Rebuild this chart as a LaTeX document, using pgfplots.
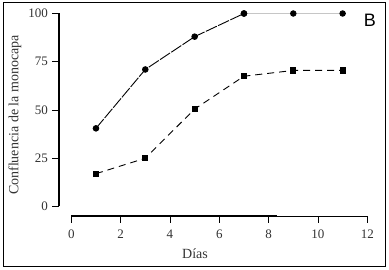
\documentclass[border=0pt]{standalone}
\usepackage{fontspec}
\setmainfont{Liberation Serif}
\newfontfamily\sansfnt{Liberation Sans}
\usepackage{pgfplots}
\pgfplotsset{compat=1.18}
\begin{document}
\begin{tikzpicture}
\useasboundingbox (-71.3pt,-63.5pt) rectangle (317.7pt,206.5pt);
\begin{axis}[
  at={(0,0)}, anchor=south west,
  scale only axis, width=296pt, height=193pt,
  xmin=0, xmax=12, ymin=0, ymax=100,
  axis x line*=bottom, axis y line*=left,
  axis x line shift=9.5pt, axis y line shift=12pt,
  xtick={0,2,...,12}, ytick={0,25,50,75,100},
  tick align=outside, major tick length=7pt,
  x axis line style={line width=0.7pt},
  y axis line style={line width=1.6pt},
  tick style={black, line width=0.8pt},
  /pgf/number format/assume math mode=true,
  tick label style={font=\fontsize{13}{15}\selectfont, text=black!80},
  xticklabel style={yshift=-3pt},
  yticklabel style={xshift=-1pt},
  xlabel={Días}, ylabel={Confluencia de la monocapa},
  label style={font=\fontsize{14}{16}\selectfont, text=black!80},
  xlabel style={at={(axis description cs:0.418,-0.246)}, anchor=center},
  ylabel style={at={(axis description cs:-0.19,0.474)}, anchor=center},
  clip=false,
]
\addplot[gray!45, line width=0.8pt, mark=*, mark size=2.8pt, mark options={black, solid}]
  coordinates {(7,100)(9,100)(11,100)};
\addplot[black, line width=0.9pt, dash pattern=on 12pt off 1.5pt, mark=*, mark size=2.8pt, mark options={solid}]
  coordinates {(1,40.5)(3,71)(5,88)(7,100)};
\addplot[black, line width=0.9pt, dash pattern=on 7pt off 5pt, mark=square*, mark size=2.6pt, mark options={solid}]
  coordinates {(1,17)(3,25)(5,50.5)(7,67.5)(9,70.5)(11,70.5)};
\end{axis}
\draw[line width=1.6pt] (0,-9.5pt) -- (206pt,-9.5pt);
\draw[line width=0.8pt] (-68.3pt,-60pt) rectangle (313.7pt,204.5pt);
\node[font=\sansfnt\fontsize{18}{20}\selectfont] at (298.7pt,186.5pt) {B};
\end{tikzpicture}
\end{document}
